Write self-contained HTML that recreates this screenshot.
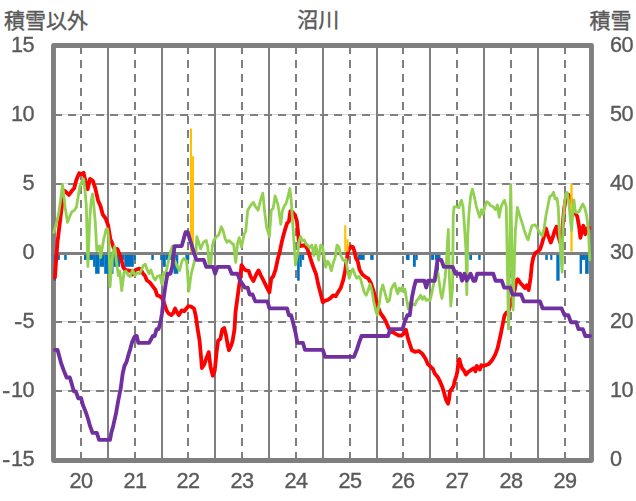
<!DOCTYPE html>
<html><head><meta charset="utf-8"><title>沼川</title>
<style>
html,body{margin:0;padding:0;background:#fff;}
body{width:636px;height:501px;position:relative;overflow:hidden;font-family:"Liberation Sans",sans-serif;}
svg{position:absolute;left:0;top:0;}
.l{position:absolute;will-change:transform;font-size:21.7px;-webkit-text-stroke:0.35px #595959;letter-spacing:-0.5px;line-height:24px;color:#595959;white-space:nowrap;}
.yl{left:0;width:34px;text-align:right;}
.yr{left:609.7px;text-align:left;}
.m{display:inline-block;transform:scaleX(1.15);transform-origin:right center;margin-right:0.9px;position:relative;top:1px;}
.xl{top:468.8px;width:40px;text-align:center;}
</style></head><body>
<svg width="636" height="501" viewBox="0 0 636 501">
<line x1="53.5" y1="114.5" x2="591.5" y2="114.5" stroke="#d9d9d9" stroke-width="1"/>
<line x1="53.5" y1="183.5" x2="591.5" y2="183.5" stroke="#d9d9d9" stroke-width="1"/>
<line x1="53.5" y1="252.5" x2="591.5" y2="252.5" stroke="#d9d9d9" stroke-width="1"/>
<line x1="53.5" y1="321.5" x2="591.5" y2="321.5" stroke="#d9d9d9" stroke-width="1"/>
<line x1="53.5" y1="390.5" x2="591.5" y2="390.5" stroke="#d9d9d9" stroke-width="1"/>
<line x1="81" y1="45.9" x2="81" y2="460.5" stroke="#7f7f7f" stroke-width="2" stroke-dasharray="8 6"/>
<line x1="108" y1="45.5" x2="108" y2="460.5" stroke="#7f7f7f" stroke-width="2"/>
<line x1="135" y1="45.9" x2="135" y2="460.5" stroke="#7f7f7f" stroke-width="2" stroke-dasharray="8 6"/>
<line x1="162" y1="45.5" x2="162" y2="460.5" stroke="#7f7f7f" stroke-width="2"/>
<line x1="188" y1="45.9" x2="188" y2="460.5" stroke="#7f7f7f" stroke-width="2" stroke-dasharray="8 6"/>
<line x1="215" y1="45.5" x2="215" y2="460.5" stroke="#7f7f7f" stroke-width="2"/>
<line x1="242" y1="45.9" x2="242" y2="460.5" stroke="#7f7f7f" stroke-width="2" stroke-dasharray="8 6"/>
<line x1="269" y1="45.5" x2="269" y2="460.5" stroke="#7f7f7f" stroke-width="2"/>
<line x1="296" y1="45.9" x2="296" y2="460.5" stroke="#7f7f7f" stroke-width="2" stroke-dasharray="8 6"/>
<line x1="323" y1="45.5" x2="323" y2="460.5" stroke="#7f7f7f" stroke-width="2"/>
<line x1="350" y1="45.9" x2="350" y2="460.5" stroke="#7f7f7f" stroke-width="2" stroke-dasharray="8 6"/>
<line x1="377" y1="45.5" x2="377" y2="460.5" stroke="#7f7f7f" stroke-width="2"/>
<line x1="403" y1="45.9" x2="403" y2="460.5" stroke="#7f7f7f" stroke-width="2" stroke-dasharray="8 6"/>
<line x1="430" y1="45.5" x2="430" y2="460.5" stroke="#7f7f7f" stroke-width="2"/>
<line x1="457" y1="45.9" x2="457" y2="460.5" stroke="#7f7f7f" stroke-width="2" stroke-dasharray="8 6"/>
<line x1="484" y1="45.5" x2="484" y2="460.5" stroke="#7f7f7f" stroke-width="2"/>
<line x1="511" y1="45.9" x2="511" y2="460.5" stroke="#7f7f7f" stroke-width="2" stroke-dasharray="8 6"/>
<line x1="538" y1="45.5" x2="538" y2="460.5" stroke="#7f7f7f" stroke-width="2"/>
<line x1="565" y1="45.9" x2="565" y2="460.5" stroke="#7f7f7f" stroke-width="2" stroke-dasharray="8 6"/>
<line x1="54.1" y1="115" x2="591.5" y2="115" stroke="#7f7f7f" stroke-width="2" stroke-dasharray="8 6"/>
<line x1="54.1" y1="184" x2="591.5" y2="184" stroke="#7f7f7f" stroke-width="2" stroke-dasharray="8 6"/>
<line x1="54.1" y1="322" x2="591.5" y2="322" stroke="#7f7f7f" stroke-width="2" stroke-dasharray="8 6"/>
<line x1="54.1" y1="391" x2="591.5" y2="391" stroke="#7f7f7f" stroke-width="2" stroke-dasharray="8 6"/>
<rect x="53.5" y="45.5" width="538.0" height="415.0" fill="none" stroke="#7f7f7f" stroke-width="4.9" stroke-linejoin="round"/>
<rect x="53.8" y="253" width="2.2" height="27.7" fill="#0070c0"/>
<rect x="57.9" y="253" width="2.0" height="6.9" fill="#0070c0"/>
<rect x="64.2" y="253" width="2.5" height="6.9" fill="#0070c0"/>
<rect x="84.0" y="253" width="9.1" height="6.9" fill="#0070c0"/>
<rect x="93.1" y="253" width="2.0" height="13.8" fill="#0070c0"/>
<rect x="95.1" y="253" width="4.5" height="20.8" fill="#0070c0"/>
<rect x="99.6" y="253" width="4.6" height="13.8" fill="#0070c0"/>
<rect x="104.2" y="253" width="9.3" height="20.8" fill="#0070c0"/>
<rect x="113.5" y="253" width="6.5" height="13.8" fill="#0070c0"/>
<rect x="120.0" y="253" width="4.3" height="6.9" fill="#0070c0"/>
<rect x="124.3" y="253" width="9.5" height="13.8" fill="#0070c0"/>
<rect x="133.8" y="253" width="2.0" height="6.9" fill="#0070c0"/>
<rect x="151.3" y="253" width="2.5" height="6.9" fill="#0070c0"/>
<rect x="160.2" y="253" width="2.4" height="6.9" fill="#0070c0"/>
<rect x="162.6" y="253" width="3.2" height="13.8" fill="#0070c0"/>
<rect x="165.8" y="253" width="7.8" height="6.9" fill="#0070c0"/>
<rect x="173.6" y="253" width="4.7" height="20.8" fill="#0070c0"/>
<rect x="185.4" y="253" width="3.9" height="6.9" fill="#0070c0"/>
<rect x="297.1" y="253" width="2.6" height="27.7" fill="#0070c0"/>
<rect x="299.7" y="253" width="2.1" height="13.8" fill="#0070c0"/>
<rect x="301.8" y="253" width="2.4" height="6.9" fill="#0070c0"/>
<rect x="357.6" y="253" width="7.1" height="6.9" fill="#0070c0"/>
<rect x="370.2" y="253" width="3.4" height="6.9" fill="#0070c0"/>
<rect x="405.9" y="253" width="3.7" height="6.9" fill="#0070c0"/>
<rect x="413.0" y="253" width="2.8" height="13.8" fill="#0070c0"/>
<rect x="415.8" y="253" width="1.9" height="6.9" fill="#0070c0"/>
<rect x="431.1" y="253" width="3.1" height="6.9" fill="#0070c0"/>
<rect x="435.0" y="253" width="5.5" height="6.9" fill="#0070c0"/>
<rect x="436.6" y="253" width="2.4" height="20.8" fill="#0070c0"/>
<rect x="469.3" y="253" width="2.7" height="6.9" fill="#0070c0"/>
<rect x="478.2" y="253" width="2.5" height="6.9" fill="#0070c0"/>
<rect x="545.3" y="253" width="2.5" height="6.9" fill="#0070c0"/>
<rect x="550.2" y="253" width="2.2" height="6.9" fill="#0070c0"/>
<rect x="556.3" y="253" width="3.3" height="27.7" fill="#0070c0"/>
<rect x="579.6" y="253" width="2.4" height="20.8" fill="#0070c0"/>
<rect x="582.0" y="253" width="3.1" height="6.9" fill="#0070c0"/>
<rect x="585.1" y="253" width="3.6" height="20.8" fill="#0070c0"/>
<line x1="53.5" y1="253.4" x2="591.5" y2="253.4" stroke="#7f7f7f" stroke-width="3"/>
<clipPath id="c"><rect x="51.0" y="45.5" width="543.0" height="415.0"/></clipPath>
<g clip-path="url(#c)" fill="none" stroke-linejoin="round" stroke-linecap="round">
<polyline points="54.9,277.6 57.4,243.0 59.7,224.0 61.9,206.0 63.6,190.5 65.1,191.1 68.9,194.9 71.7,191.1 74.2,188.3 76.4,179.8 79.2,173.2 81.7,174.2 83.6,172.8 85.8,182.6 87.7,189.2 90.0,178.9 93.0,181.1 95.3,188.3 98.1,200.6 100.6,206.2 102.8,214.7 105.7,218.5 108.1,225.1 110.4,239.2 111.9,242.6 113.8,248.2 117.5,249.2 119.4,253.9 121.3,259.5 123.2,267.1 125.1,269.9 127.9,270.5 130.8,270.9 132.6,274.6 134.5,270.9 136.4,269.5 139.2,268.6 141.1,269.9 143.0,273.7 144.9,275.6 146.8,280.3 149.6,282.2 152.4,285.9 155.3,289.7 157.2,295.4 160.0,296.3 162.8,299.1 164.7,304.8 166.6,310.5 168.5,313.3 171.3,315.1 173.2,313.2 175.1,308.5 177.0,312.3 178.9,315.1 181.7,310.4 184.2,311.3 186.4,308.5 188.3,306.2 191.1,306.6 194.0,308.5 195.8,316.0 197.7,329.4 199.6,340.8 201.1,357.7 201.9,368.1 204.3,364.3 206.2,358.7 208.7,352.1 210.6,367.2 212.8,375.7 214.7,370.9 216.6,352.1 218.1,340.8 220.4,338.9 222.3,329.4 224.2,327.9 226.0,335.1 227.6,344.5 228.9,350.2 230.8,346.4 232.6,340.8 234.5,329.4 235.5,312.3 238.3,291.5 240.2,278.3 241.5,265.1 244.0,268.9 245.8,270.4 248.7,270.8 250.6,276.4 253.4,281.1 256.2,274.5 258.5,270.4 260.9,275.5 263.8,281.1 266.6,286.8 269.4,292.4 271.3,278.3 273.2,276.4 275.5,269.8 277.9,258.5 279.8,251.7 281.7,242.3 283.6,234.7 285.5,228.1 287.0,223.4 288.9,221.5 290.4,211.1 292.6,212.1 294.9,214.9 296.8,220.6 297.9,230.9 298.7,240.4 300.2,246.0 302.4,245.7 304.9,245.1 307.4,248.9 309.6,255.5 311.9,263.0 314.3,269.6 316.2,274.5 318.1,284.0 320.6,293.4 322.8,302.4 325.1,300.6 327.6,300.0 330.4,298.1 333.2,295.3 335.7,296.2 337.9,292.4 340.8,287.7 343.2,280.2 345.1,270.8 346.4,261.3 348.3,250.8 350.8,246.4 353.0,247.0 354.5,251.7 355.9,258.3 357.7,261.1 359.6,269.8 362.4,274.5 365.3,276.8 368.1,278.3 370.9,283.0 373.4,290.6 375.7,299.1 377.9,306.6 380.4,313.2 383.2,317.0 385.5,320.8 387.9,326.4 390.4,331.7 393.2,332.3 396.0,334.1 398.9,335.5 401.7,335.5 403.6,333.6 406.0,329.8 407.9,338.3 409.8,344.0 411.8,350.2 414.9,351.8 418.9,351.0 422.0,353.4 425.2,358.1 428.0,364.4 430.7,366.7 433.0,369.1 434.9,373.8 437.7,376.9 440.1,381.7 442.4,387.2 444.3,393.5 445.9,399.4 448.0,403.7 449.1,399.0 450.0,391.1 451.9,388.7 453.5,386.4 454.7,380.9 456.3,376.2 457.4,371.4 458.5,361.2 459.4,359.2 460.5,363.6 462.1,368.3 464.1,370.7 466.0,374.6 467.9,372.2 470.0,370.7 472.3,369.1 473.9,368.3 475.5,371.4 476.7,365.9 478.3,367.5 479.9,369.6 481.4,365.2 483.3,365.9 485.7,365.2 488.8,363.9 492.0,360.4 495.1,354.9 497.5,348.6 500.8,334.0 502.6,324.9 504.5,315.5 506.4,312.6 508.3,311.7 514.9,289.1 516.2,280.6 517.7,279.2 520.0,282.4 522.5,285.3 524.9,288.1 526.8,285.3 528.7,290.0 530.6,277.7 531.9,264.5 533.2,257.9 535.1,253.2 537.5,251.7 540.0,249.4 541.9,243.8 544.1,236.0 546.0,228.5 547.9,235.1 550.8,242.6 552.6,237.9 554.5,231.3 556.4,226.6 558.3,236.0 560.2,242.6 562.1,232.3 564.0,209.6 566.3,195.3 568.4,194.6 570.0,196.6 571.8,202.0 573.6,208.3 575.3,213.4 577.2,216.2 579.1,226.6 580.4,237.9 581.9,230.4 583.4,225.7 585.3,234.2 587.2,228.5 588.0,227.6 589.4,228.0" stroke="#ff0000" stroke-width="3.8"/>
<rect x="190.0" y="128.5" width="2.0" height="123.1" fill="#ffc000" stroke="none"/>
<rect x="192.0" y="156.2" width="2.0" height="95.4" fill="#ffc000" stroke="none"/>
<rect x="344.2" y="225.3" width="2.1" height="26.3" fill="#ffc000" stroke="none"/>
<rect x="346.3" y="239.2" width="2.3" height="12.4" fill="#ffc000" stroke="none"/>
<rect x="570.3" y="183.8" width="2.4" height="67.8" fill="#ffc000" stroke="none"/>
<polyline points="53.8,232.6 55.7,226.0 58.5,214.7 60.4,201.5 62.5,184.5 63.6,193.0 65.1,207.2 67.5,222.3 69.8,216.6 71.7,211.9 74.2,210.6 76.4,207.2 78.3,195.8 79.8,186.4 82.1,180.8 83.6,178.9 84.9,190.2 86.3,205.0 87.9,266.5 89.7,220.0 91.1,201.5 92.5,194.0 93.8,205.3 95.3,222.3 96.8,250.6 98.1,246.8 99.4,245.8 100.6,257.6 103.8,238.8 104.7,235.5 106.0,229.4 107.5,228.9 108.9,239.2 110.0,286.9 112.6,253.9 114.7,246.3 116.4,261.4 118.3,275.6 119.8,270.9 121.7,290.7 124.0,272.7 125.8,270.9 128.3,275.6 130.2,276.5 132.6,269.9 134.9,275.6 137.2,272.7 139.6,273.7 141.5,269.9 143.4,265.2 145.3,264.2 147.2,269.9 149.1,273.7 150.9,269.9 153.4,277.4 155.2,280.0 157.5,276.3 160.0,275.5 161.9,284.4 163.7,272.5 165.5,275.0 167.4,266.0 169.2,258.0 170.5,252.0 171.9,247.3 172.7,246.0 174.2,259.2 177.5,267.0 179.6,270.5 182.0,261.0 183.8,258.6 186.6,261.0 188.8,291.3 191.1,274.5 194.0,263.2 195.8,255.7 196.8,236.6 198.7,242.3 200.6,248.9 203.4,242.3 206.2,240.4 207.8,247.0 209.0,264.5 210.8,264.0 212.3,246.5 213.8,240.4 216.6,236.6 218.9,234.7 221.3,226.8 223.2,230.9 225.1,238.5 227.0,242.3 228.9,240.4 231.7,243.2 233.6,244.2 235.5,261.1 235.8,262.3 237.4,244.2 239.2,237.6 241.5,247.0 244.0,234.7 245.8,230.9 247.7,210.2 250.6,205.5 253.4,202.3 255.3,206.4 258.1,210.2 260.9,198.9 262.8,193.2 264.7,212.1 266.6,227.2 269.4,236.6 271.3,210.2 273.2,208.3 275.1,196.0 277.9,204.5 279.1,212.1 280.8,224.3 282.3,211.1 284.1,206.4 286.0,203.6 287.9,197.0 289.8,188.5 291.1,198.9 292.6,221.5 294.1,244.2 295.5,265.1 297.9,251.7 299.2,240.4 300.6,236.6 302.4,240.8 304.3,240.0 306.2,244.2 307.7,245.1 309.6,247.6 311.9,245.1 313.8,255.5 315.7,245.1 317.2,251.7 318.7,260.2 320.6,245.1 322.4,246.0 323.8,254.5 325.7,267.0 327.6,261.3 329.4,264.1 331.3,270.8 333.2,263.2 335.1,257.6 337.0,245.1 338.9,247.0 340.8,255.5 342.6,259.2 344.5,261.1 345.9,259.2 346.4,263.2 347.7,270.8 349.2,278.3 351.5,270.8 353.0,268.9 354.9,274.5 356.8,278.3 358.7,276.4 360.6,279.2 362.4,285.9 364.3,292.4 366.2,295.3 368.1,290.6 370.0,284.0 371.9,290.6 373.8,301.9 375.7,310.4 377.2,315.1 379.1,304.7 380.9,291.5 382.8,284.9 385.1,293.4 387.4,301.9 389.4,300.4 391.3,289.1 393.2,285.3 394.7,283.4 396.6,290.9 397.9,293.8 399.2,288.1 400.8,290.9 402.3,287.2 403.6,291.9 404.9,289.1 406.4,298.5 408.3,308.9 410.2,302.3 412.4,304.1 414.9,305.1 416.8,300.4 418.7,298.5 420.6,295.1 422.4,299.4 424.3,296.6 426.2,300.4 428.1,299.4 430.0,300.4 431.9,292.8 433.8,283.4 435.7,273.0 437.6,271.1 438.9,279.6 440.4,290.9 441.9,298.5 443.2,290.9 445.1,277.7 446.4,262.6 448.3,229.4 449.4,277.7 450.8,306.0 452.6,287.2 453.2,217.2 454.0,206.8 456.4,206.8 458.9,207.7 460.2,203.0 461.5,200.2 463.0,206.8 464.5,226.6 465.9,249.2 466.8,294.7 467.7,236.0 469.1,211.5 470.6,196.4 472.4,189.2 474.3,196.4 476.2,205.8 478.1,212.4 479.6,217.2 481.5,209.6 482.8,214.3 484.7,207.7 486.6,201.7 488.5,203.0 490.9,205.8 493.2,206.8 495.5,209.6 497.4,204.9 499.2,217.2 500.8,207.7 502.6,203.0 504.5,200.2 506.3,207.0 508.5,329.0 510.7,184.8 513.1,310.0 515.3,232.0 517.4,207.5 519.6,215.3 521.5,220.9 524.3,230.4 526.2,236.0 528.1,239.8 530.0,232.3 531.9,225.7 534.7,224.7 536.6,226.6 539.4,232.3 542.3,236.0 544.1,228.5 546.0,215.3 547.9,205.8 549.8,196.4 551.7,195.5 553.6,192.3 555.1,199.2 557.0,198.3 558.3,207.7 559.2,230.4 562.1,272.1 563.0,222.8 564.5,204.0 565.9,193.6 567.2,192.6 568.7,201.1 570.2,217.2 571.5,230.4 572.8,213.4 574.0,200.2 575.3,211.8 576.8,212.6 579.1,211.6 580.9,207.7 582.8,204.0 584.7,207.7 586.6,215.3 588.5,230.4 589.8,259.8" stroke="#92d050" stroke-width="2.8"/>
<polyline points="55.0,349.8 57.5,349.8 59.4,356.8 61.3,363.7 63.8,370.6 66.6,377.5 69.8,377.5 71.9,384.4 73.8,391.3 75.7,391.3 78.3,398.2 81.1,398.2 83.0,405.2 85.8,412.1 88.1,419.0 90.0,425.9 92.5,432.8 96.8,432.8 99.1,439.8 110.0,439.8 111.3,432.8 113.2,425.9 116.0,413.5 118.3,400.3 120.8,387.9 122.6,374.0 124.5,365.7 126.4,362.3 128.3,355.4 130.2,349.1 132.1,342.2 134.0,337.7 135.3,336.0 136.8,336.0 138.3,342.9 149.1,342.9 152.8,336.0 154.7,336.0 156.6,329.1 158.5,329.1 160.5,322.2 162.0,313.2 163.8,297.3 165.7,284.1 167.5,273.7 170.4,273.7 172.3,266.8 173.3,258.5 174.5,246.1 181.7,246.1 183.6,239.2 185.5,232.2 187.9,232.2 189.8,239.2 192.0,246.1 194.0,253.0 196.5,259.9 203.8,259.9 206.2,266.8 213.0,266.8 215.1,273.7 217.5,266.8 228.9,266.8 231.7,273.7 237.4,273.7 240.2,280.7 244.9,287.6 247.7,287.6 249.6,294.5 252.5,294.5 255.3,301.4 267.5,301.4 269.4,308.3 287.0,308.3 288.9,315.2 291.1,315.2 293.0,322.2 295.5,332.5 297.4,342.9 303.0,342.9 304.9,349.8 322.8,349.8 325.1,356.8 354.0,356.8 356.8,349.8 359.0,342.9 361.5,336.0 388.0,336.0 390.4,329.1 402.6,329.1 404.5,322.2 407.4,315.2 409.8,315.2 412.1,296.6 414.0,287.6 415.8,280.7 424.3,280.7 426.2,287.6 428.1,280.7 434.7,280.7 436.6,266.8 437.5,259.9 441.3,259.9 443.8,266.8 452.6,266.8 455.5,273.7 460.2,273.7 462.1,280.7 464.5,273.7 466.8,280.7 468.7,277.2 470.6,273.7 473.4,280.7 475.3,280.7 477.2,273.7 493.2,273.7 495.5,280.7 501.7,280.7 504.2,287.6 510.2,287.6 512.5,294.5 521.1,294.5 523.8,301.4 540.0,301.4 542.6,308.3 561.5,308.3 564.5,315.2 568.3,315.2 570.9,322.2 576.2,322.2 578.5,329.1 582.8,329.1 585.3,336.0 590.0,336.0" stroke="#7030a0" stroke-width="3.85"/>
</g>
<text x="4.1" y="28.2" font-size="21" fill="#595959" stroke="#595959" stroke-width="0.4" font-family="&quot;Liberation Sans&quot;, &quot;Noto Sans CJK JP&quot;, sans-serif">積雪以外</text>
<text x="297.2" y="27.2" font-size="21" fill="#595959" stroke="#595959" stroke-width="0.4" font-family="&quot;Liberation Sans&quot;, &quot;Noto Sans CJK JP&quot;, sans-serif">沼川</text>
<text x="589.4" y="27.8" font-size="21" fill="#595959" stroke="#595959" stroke-width="0.4" font-family="&quot;Liberation Sans&quot;, &quot;Noto Sans CJK JP&quot;, sans-serif">積雪</text>
</svg>
<div class="l yl" style="top:33.1px">15</div>
<div class="l yl" style="top:102.1px">10</div>
<div class="l yl" style="top:171.2px">5</div>
<div class="l yl" style="top:240.2px">0</div>
<div class="l yl" style="top:309.2px"><span class="m">-</span>5</div>
<div class="l yl" style="top:378.2px"><span class="m">-</span>10</div>
<div class="l yl" style="top:447.2px"><span class="m">-</span>15</div>
<div class="l yr" style="top:33.1px">60</div>
<div class="l yr" style="top:102.1px">50</div>
<div class="l yr" style="top:171.2px">40</div>
<div class="l yr" style="top:240.2px">30</div>
<div class="l yr" style="top:309.2px">20</div>
<div class="l yr" style="top:378.2px">10</div>
<div class="l yr" style="top:447.2px">0</div>
<div class="l xl" style="left:60.9px">20</div>
<div class="l xl" style="left:114.7px">21</div>
<div class="l xl" style="left:168.4px">22</div>
<div class="l xl" style="left:222.2px">23</div>
<div class="l xl" style="left:275.9px">24</div>
<div class="l xl" style="left:329.7px">25</div>
<div class="l xl" style="left:383.4px">26</div>
<div class="l xl" style="left:437.2px">27</div>
<div class="l xl" style="left:490.9px">28</div>
<div class="l xl" style="left:544.7px">29</div>
</body></html>
